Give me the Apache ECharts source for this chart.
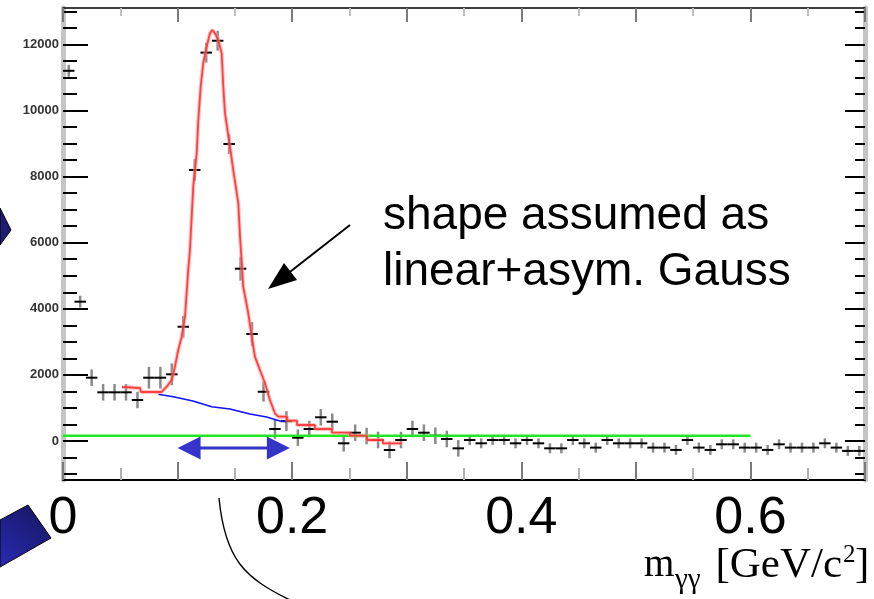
<!DOCTYPE html>
<html>
<head>
<meta charset="utf-8">
<script src="https://cdn.jsdelivr.net/npm/echarts@6/dist/echarts.min.js"></script>
<style>
html,body{margin:0;padding:0;background:#fff;}
#chart{width:874px;height:599px;}
</style>
</head>
<body>
<div id="chart"></div>
<script>
// ---- data ----
const binCenters = [0.005,0.015,0.025,0.035,0.045,0.055,0.065,0.075,0.085,0.095,
  0.105,0.115,0.125,0.135,0.145,0.155,0.165,0.175,0.185,0.195,
  0.205,0.215,0.225,0.235,0.245,0.255,0.265,0.275,0.285,0.295,
  0.305,0.315,0.325,0.335,0.345,0.355,0.365,0.375,0.385,0.395,
  0.405,0.415,0.425,0.435,0.445,0.455,0.465,0.475,0.485,0.495,
  0.505,0.515,0.525,0.535,0.545,0.555,0.565,0.575,0.585,0.595,
  0.605,0.615,0.625,0.635,0.645,0.655,0.665,0.675,0.685,0.695];
const counts = [11200,4215,1915,1473,1473,1473,1240,1915,1915,2018,
  3457,8200,11750,12110,8985,5213,3237,1490,363,600,
  100,363,717,584,-70,251,150,30,-272,30,
  363,251,160,60,-222,30,-70,30,30,-70,
  30,-70,-222,-222,30,-70,-200,30,-70,-70,
  -70,-200,-200,-270,30,-200,-270,-100,-100,-200,
  -200,-270,-100,-200,-200,-200,-70,-200,-300,-300];
const errors = [180,180,250,250,250,250,250,330,330,330,
  330,330,300,300,300,360,360,300,300,300,
  250,250,250,250,250,250,250,250,250,250,
  250,250,250,250,250,150,150,150,150,150,
  150,150,150,150,150,150,150,150,150,150,
  150,150,150,150,150,150,150,150,150,150,
  150,150,150,150,150,150,150,150,150,150];
const binHalfWidth = 0.005;

// fit: linear + asymmetric Gauss
const fitX = [0.0515,0.0672,0.0681,0.0861,0.0905,0.0949,0.0977,0.1006,0.1036,0.1065,
  0.1079,0.1093,0.1108,0.1137,0.1167,0.1181,0.1202,0.1224,0.1254,0.1283,
  0.1303,0.1326,0.1355,0.1385,0.1399,0.1414,0.1457,0.1486,0.1530,0.1545,
  0.1559,0.1573,0.1617,0.1647,0.1675,0.1719,0.1763,0.1806,0.1850,0.1879,
  0.1955,0.1955,0.2042,0.2042,0.2199,0.2199,0.2347,0.2347,0.2504,0.2504,
  0.2653,0.2653,0.2792,0.2792,0.2958];
const fitY = [1634,1604,1483,1483,1643,1846,2248,2754,3156,3761,
  4469,5174,5780,7695,8705,9713,10721,11429,11931,12337,
  12436,12337,12133,11731,10721,9916,8905,8200,7192,6182,
  5477,4669,3864,3156,2551,2148,1746,1241,838,735,
  735,614,614,484,484,363,363,251,251,160,
  160,30,30,-70,-70];
// linear background under the peak
const bkgX = [0.0832,0.0962,0.1134,0.1298,0.1457,0.1632,0.1777,0.1894,0.1946];
const bkgY = [1413,1340,1210,1038,968,817,726,605,590];
// flat green level
const flatX = [0, 0.6];
const flatY = [160, 160];
// signal window (blue double arrow)
const windowX = [0.1, 0.198];
const windowY = -212;

const xTickValues = [0, 0.2, 0.4, 0.6];
const xTickLabels = ['0', '0.2', '0.4', '0.6'];
const xMajorTicks = [0,0.1,0.2,0.3,0.4,0.5,0.6,0.7];
const xMinorTicks = [0.05,0.15,0.25,0.35,0.45,0.55,0.65];
const yTickValues = [0, 2000, 4000, 6000, 8000, 10000, 12000];
const yTickLabels = ['0', '2000', '4000', '6000', '8000', '10000', '12000'];
const yMinorTicks = [-1000,-500,500,1000,1500,2500,3000,3500,4500,5000,5500,6500,7000,7500,
  8500,9000,9500,10500,11000,11500,12500,13000];
const noteLines = ['shape assumed as', 'linear+asym. Gauss'];
const xMin = 0, xMax = 0.7, yMin = -1180, yMax = 13100;

// ---- chart ----
const chart = echarts.init(document.getElementById('chart'), null, {renderer: 'canvas'});

function xAxisDef(pos, ticks, len, color, showLine, lineColor, lineW, showLabel) {
  return {
    type: 'value', position: pos, min: xMin, max: xMax,
    axisLine: {show: showLine, onZero: false, lineStyle: {color: lineColor, width: lineW}},
    axisTick: {show: true, inside: true, length: len, customValues: ticks, lineStyle: {color: color, width: 2}},
    axisLabel: showLabel ? {
      show: true, customValues: xTickValues,
      formatter: v => { const i = xTickValues.indexOf(v); return i >= 0 ? xTickLabels[i] : ''; },
      fontFamily: 'Liberation Sans, Arial, sans-serif', fontSize: 52, color: '#000',
      margin: 39, verticalAlign: 'middle'
    } : {show: false},
    splitLine: {show: false}
  };
}
function yAxisDef(pos, ticks, len, showLine, showLabel) {
  return {
    type: 'value', position: pos, min: yMin, max: yMax,
    axisLine: {show: showLine, onZero: false, lineStyle: {color: '#c4c4c4', width: 5}},
    axisTick: {show: true, inside: true, length: len, customValues: ticks, lineStyle: {color: '#000', width: 2}},
    axisLabel: showLabel ? {
      show: true, customValues: yTickValues,
      formatter: v => { const i = yTickValues.indexOf(v); return i >= 0 ? yTickLabels[i] : ''; },
      fontFamily: 'Liberation Sans, Arial, sans-serif', fontSize: 13, fontWeight: 'bold', color: '#333', margin: 4
    } : {show: false},
    splitLine: {show: false}
  };
}

const errData = binCenters.map((c, i) => [c, counts[i], errors[i]]);
const fitData = fitX.map((x, i) => [x, fitY[i]]);
const serif = 'Liberation Serif, Times New Roman, serif';

const option = {
  animation: false,
  backgroundColor: '#fff',
  grid: {left: 63, right: 9, top: 8, bottom: 119, containLabel: false},
  xAxis: [
    xAxisDef('bottom', xMajorTicks, 18, '#7a7a7a', true, '#000', 2, true),
    xAxisDef('bottom', xMinorTicks, 12, '#b0b0b0', false, '#000', 1, false),
    xAxisDef('top', xMajorTicks, 14, '#7a7a7a', true, '#000', 1.5, false),
    xAxisDef('top', xMinorTicks, 8, '#c0c0c0', false, '#000', 1, false)
  ],
  yAxis: [
    yAxisDef('left', yTickValues, 25, true, true),
    yAxisDef('left', yMinorTicks, 14, false, false),
    yAxisDef('right', yTickValues, 20, true, false),
    yAxisDef('right', yMinorTicks, 10, false, false)
  ],
  series: [
    {
      type: 'custom', name: 'data', xAxisIndex: 0, yAxisIndex: 0, z: 2,
      data: errData,
      renderItem: (params, api) => {
        const x = api.value(0), y = api.value(1), e = api.value(2);
        const l = api.coord([x - binHalfWidth, y]), r = api.coord([x + binHalfWidth, y]);
        const t = api.coord([x, y + e]), b = api.coord([x, y - e]);
        return {type: 'group', children: [
          {type: 'line', shape: {x1: t[0], y1: t[1], x2: b[0], y2: b[1]}, style: {stroke: '#8a8a8a', lineWidth: 2.5}},
          {type: 'line', shape: {x1: l[0], y1: l[1], x2: r[0], y2: r[1]}, style: {stroke: '#000', lineWidth: 2}}
        ]};
      }
    },
    {
      type: 'line', name: 'flat', xAxisIndex: 0, yAxisIndex: 0, z: 3,
      data: flatX.map((x, i) => [x, flatY[i]]), symbol: 'none',
      lineStyle: {color: '#1ee81e', width: 2.5}
    },
    {
      type: 'line', name: 'background', xAxisIndex: 0, yAxisIndex: 0, z: 4,
      data: bkgX.map((x, i) => [x, bkgY[i]]), symbol: 'none',
      lineStyle: {color: '#1010ff', width: 1.6}
    },
    {
      type: 'line', name: 'fit halo', xAxisIndex: 0, yAxisIndex: 0, z: 5,
      data: fitData, symbol: 'none',
      lineStyle: {color: 'rgba(255,150,150,0.55)', width: 4}
    },
    {
      type: 'line', name: 'fit', xAxisIndex: 0, yAxisIndex: 0, z: 5,
      data: fitData, symbol: 'none',
      lineStyle: {color: 'rgba(255,50,50,0.9)', width: 1.8}
    },
    {
      type: 'custom', name: 'window', xAxisIndex: 0, yAxisIndex: 0, z: 6,
      data: [[windowX[0], windowX[1], windowY]],
      renderItem: (params, api) => {
        const a = api.coord([api.value(0), api.value(2)]);
        const b = api.coord([api.value(1), api.value(2)]);
        const hl = 23, hw = 11.5, col = '#3434c8';
        return {type: 'group', children: [
          {type: 'line', shape: {x1: a[0] + hl - 1, y1: a[1], x2: b[0] - hl + 1, y2: b[1]}, style: {stroke: col, lineWidth: 3}},
          {type: 'polygon', shape: {points: [[a[0], a[1]], [a[0] + hl, a[1] - hw], [a[0] + hl, a[1] + hw]]}, style: {fill: col}},
          {type: 'polygon', shape: {points: [[b[0], b[1]], [b[0] - hl, b[1] - hw], [b[0] - hl, b[1] + hw]]}, style: {fill: col}}
        ]};
      }
    }
  ],
  graphic: [
    // annotation
    {type: 'text', x: 383, y: 216, z: 10, style: {text: noteLines[0], fontFamily: 'Liberation Sans, Arial, sans-serif', fontSize: 46, fill: '#000', align: 'left', verticalAlign: 'middle'}},
    {type: 'text', x: 383, y: 272, z: 10, style: {text: noteLines[1], fontFamily: 'Liberation Sans, Arial, sans-serif', fontSize: 46, fill: '#000', align: 'left', verticalAlign: 'middle'}},
    {type: 'line', z: 10, shape: {x1: 350, y1: 225, x2: 286, y2: 275}, style: {stroke: '#000', lineWidth: 2}},
    {type: 'polygon', z: 10, shape: {points: [[268, 289], [284, 263], [297, 280]]}, style: {fill: '#000'}},
    // axis title m_γγ [GeV/c²]
    {type: 'text', x: 644, y: 566, z: 10, style: {text: 'm', fontFamily: serif, fontSize: 39, fill: '#000', align: 'left', verticalAlign: 'middle'}},
    {type: 'text', x: 675, y: 580, z: 10, style: {text: 'γγ', fontFamily: serif, fontSize: 29, fill: '#000', align: 'left', verticalAlign: 'middle'}},
    {type: 'text', x: 842, y: 566, z: 10, style: {text: '[GeV/c', fontFamily: serif, fontSize: 43, fill: '#000', align: 'right', verticalAlign: 'middle'}},
    {type: 'text', x: 843, y: 555, z: 10, style: {text: '2', fontFamily: serif, fontSize: 25, fill: '#000', align: 'left', verticalAlign: 'middle'}},
    {type: 'text', x: 855, y: 566, z: 10, style: {text: ']', fontFamily: serif, fontSize: 43, fill: '#000', align: 'left', verticalAlign: 'middle'}},
    // decorative dark-blue shapes
    {type: 'polygon', z: 10, shape: {points: [[0, 208], [11, 230], [0, 245]]}, style: {fill: '#1c1c70', stroke: '#000', lineWidth: 1}},
    {type: 'polygon', z: 10, shape: {points: [[0, 520], [28, 505], [51, 538], [0, 567]]},
      style: {fill: new echarts.graphic.LinearGradient(1, 0, 0, 1, [{offset: 0, color: '#151560'}, {offset: 1, color: '#2a2ab0'}]), stroke: '#000', lineWidth: 1}},
    // black curve
    {type: 'bezierCurve', z: 10, shape: {x1: 219, y1: 498, cpx1: 225, cpy1: 560, cpx2: 245, cpy2: 578, x2: 290, y2: 600}, style: {stroke: '#000', lineWidth: 1.4, fill: null}}
  ]
};
chart.setOption(option);
</script>
</body>
</html>
